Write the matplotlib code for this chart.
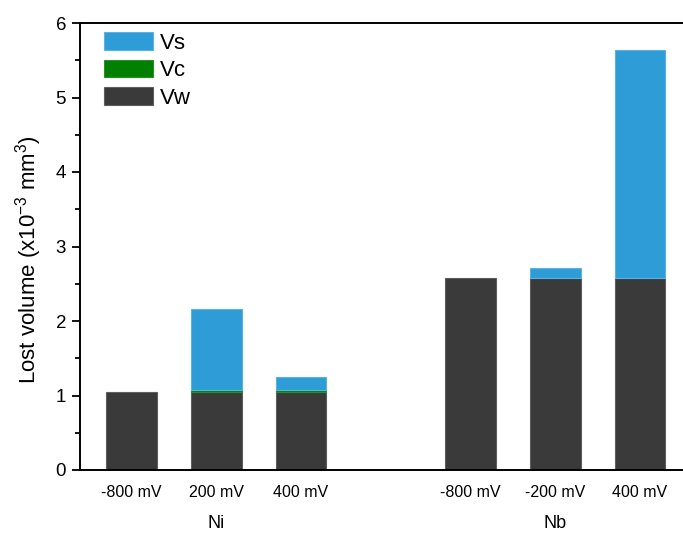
import matplotlib
matplotlib.use("Agg")
import matplotlib.pyplot as plt
import numpy as np
from matplotlib.ticker import MultipleLocator

plt.rcParams["font.family"] = ["Liberation Sans", "DejaVu Sans"]
plt.rcParams["mathtext.default"] = "regular"

# data
tick_labels = ["-800 mV", "200 mV", "400 mV", "-800 mV", "-200 mV", "400 mV"]
groups = ["Ni", "Nb"]
vw = [1.05, 1.05, 1.05, 2.58, 2.58, 2.58]
vc = [0.0, 0.03, 0.03, 0.0, 0.0, 0.0]
vs = [0.0, 1.08, 0.17, 0.0, 0.13, 3.06]

positions = np.array([1, 2, 3, 5, 6, 7])
group_centers = [2, 6]

fig = plt.figure(figsize=(6.83, 5.33), dpi=100)
ax = fig.add_axes([80 / 683, 1 - 470 / 533, 610 / 683, 447 / 533])

vw = np.array(vw)
vc = np.array(vc)
vs = np.array(vs)
w = 0.6


def edge_widths(vals):
    # no outline for empty segments
    return [0.8 if v > 0 else 0 for v in vals]


b_vw = ax.bar(positions, vw, w, color="#3a3a3a", edgecolor="#5e5e5e",
              linewidth=edge_widths(vw), label="Vw")
b_vc = ax.bar(positions, vc, w, bottom=vw, color="#008000", edgecolor="#2a8f2a",
              linewidth=edge_widths(vc), label="Vc")
b_vs = ax.bar(positions, vs, w, bottom=vw + vc, color="#2e9cd6", edgecolor="#5ab2e2",
              linewidth=edge_widths(vs), label="Vs")

ax.set_xlim(0.392, 7.59)
ax.set_ylim(0, 6)
ax.yaxis.set_major_locator(MultipleLocator(1))
ax.yaxis.set_minor_locator(MultipleLocator(0.5))
ax.tick_params(axis="y", which="major", direction="out", length=6, width=1.3, labelsize=13.5, pad=4)
ax.tick_params(axis="y", which="minor", direction="out", length=3.5, width=1.3)
ax.set_xticks(positions)
ax.set_xticklabels(tick_labels, fontsize=11.5)
ax.tick_params(axis="x", length=0, pad=11)

for gx, g in zip(group_centers, groups):
    ax.text(gx, -0.12, g, transform=ax.get_xaxis_transform(), ha="center", va="center", fontsize=13)

for s in ax.spines.values():
    s.set_linewidth(1.4)

ax.set_ylabel(r"Lost volume (x10$^{-3}$ mm$^{3}$)", fontsize=16)
ax.yaxis.set_label_coords(-36 / 610, 0.47)

# legend: handle objects for the patch proxies
h_vs = b_vs.patches[1]
h_vc = b_vc.patches[1]
h_vw = b_vw.patches[0]
leg = ax.legend([h_vs, h_vc, h_vw], ["Vs", "Vc", "Vw"], loc="upper left",
                bbox_to_anchor=(24 / 610, 1 - 9 / 447), frameon=False, fontsize=16,
                handlelength=2.2, handleheight=0.85, handletextpad=0.3,
                labelspacing=0.27, borderaxespad=0, borderpad=0)

fig.savefig("out.png", dpi=100)
